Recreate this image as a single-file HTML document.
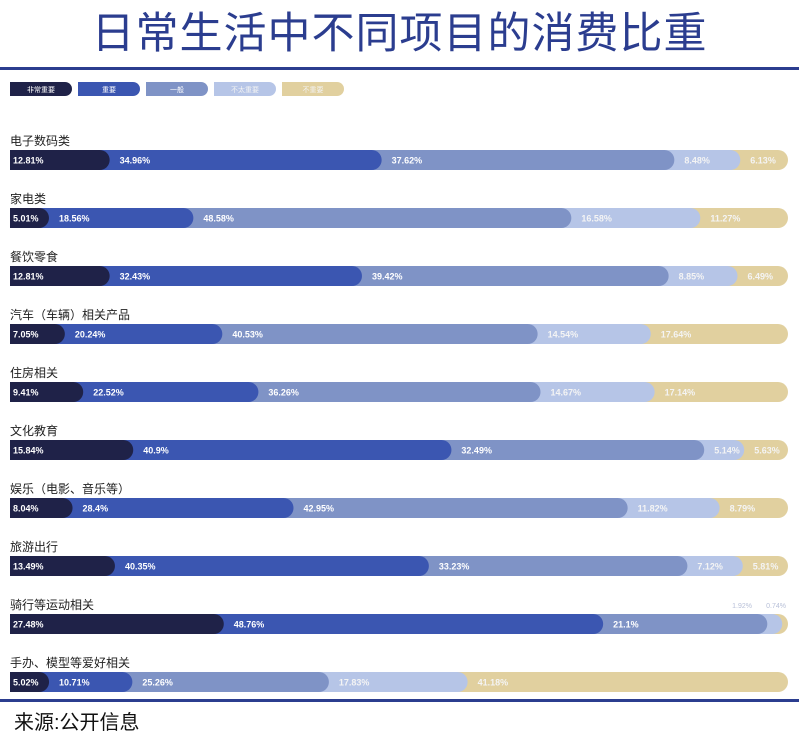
<!DOCTYPE html>
<html><head><meta charset="utf-8">
<style>
body{margin:0;background:#fff;font-family:"Liberation Sans","Noto Sans CJK SC",sans-serif;}
#wrap{position:relative;width:799px;height:745px;overflow:hidden;}
#title{position:absolute;left:0;top:6px;width:799px;text-align:center;font-size:43px;color:#2b3d8f;letter-spacing:1px;line-height:56px;}
#src{position:absolute;left:14px;top:706px;font-size:20px;color:#111;}
</style></head><body>
<div id="wrap">
<div id="title">日常生活中不同项目的消费比重</div>
<svg id="svg" width="799" height="745" style="position:absolute;left:0;top:0"></svg>
<div id="src">来源:公开信息</div>
</div>
<script>
const categories=["电子数码类","家电类","餐饮零食","汽车（车辆）相关产品","住房相关","文化教育","娱乐（电影、音乐等）","旅游出行","骑行等运动相关","手办、模型等爱好相关"];
const seriesNames=["非常重要","重要","一般","不太重要","不重要"];
const s1=[12.81,5.01,12.81,7.05,9.41,15.84,8.04,13.49,27.48,5.02];
const s2=[34.96,18.56,32.43,20.24,22.52,40.9,28.4,40.35,48.76,10.71];
const s3=[37.62,48.58,39.42,40.53,36.26,32.49,42.95,33.23,21.1,25.26];
const s4=[8.48,16.58,8.85,14.54,14.67,5.14,11.82,7.12,1.92,17.83];
const s5=[6.13,11.27,6.49,17.64,17.14,5.63,8.79,5.81,0.74,41.18];
const colors=["#1f2248","#3b56b1","#7f93c6","#b6c5e7","#e1d09f"];
const NS="http://www.w3.org/2000/svg";
const svg=document.getElementById('svg');
function mk(t,a){const e=document.createElementNS(NS,t);for(const k in a)e.setAttribute(k,a[k]);svg.appendChild(e);return e;}
let l=mk('rect',{x:0,y:67,width:799,height:3,fill:'#2b3d8f'});


l=mk('rect',{x:0,y:699,width:799,height:3,fill:'#2b3d8f'});


seriesNames.forEach((n,i)=>{
  const x=10+i*68;
  const p=mk('path',{d:`M${x},82 h55 a7,7 0 0 1 0,14 h-55 z`,fill:colors[i]});
  
  
  const t=mk('text',{x:x+31,y:92,'font-size':7,'text-anchor':'middle',fill:i>=3?'#f3f3f3':'#fff'});
  t.textContent=n;
  
  
});
const X0=10,W=778,H=20;
function xs(v,tot){return v/tot*W;}
categories.forEach((c,r)=>{
  const y=150+r*58;
  const vals=[s1[r],s2[r],s3[r],s4[r],s5[r]];
  const tot=vals.reduce((a,b)=>a+b,0);
  const lab=mk('text',{x:10,y:y-5,'font-size':12,fill:'#222'});
  lab.textContent=c;
  
  
  const starts=[];let cum=0;
  vals.forEach(v=>{starts.push(cum);cum+=v;});
  for(let i=4;i>=0;i--){
    const end=X0+xs(starts[i]+vals[i],tot);
    const w=Math.max(end-X0-10,0);
    const p=mk('path',{d:`M${X0},${y} h${w} a10,10 0 0 1 0,${H} h${-w} z`,fill:colors[i]});
    
    
  }
  vals.forEach((v,i)=>{
    const sx=X0+xs(starts[i],tot);
    const sw=xs(v,tot);
    let t;
    if(sw<25){
      const ex=X0+W-(4-i)*34-2;
      t=mk('text',{x:ex,y:y-6,'font-size':7,'text-anchor':'end',fill:'#b8c0d8'});
    }else{
      t=mk('text',{x:sx+(i===0?3:10),y:y+13.5,'font-size':9,'font-weight':'bold',fill:i>=3?'#f4f4f4':'#fff'});
    }
    t.textContent=v+'%';
    
    
  });
});
</script>
</body></html>
